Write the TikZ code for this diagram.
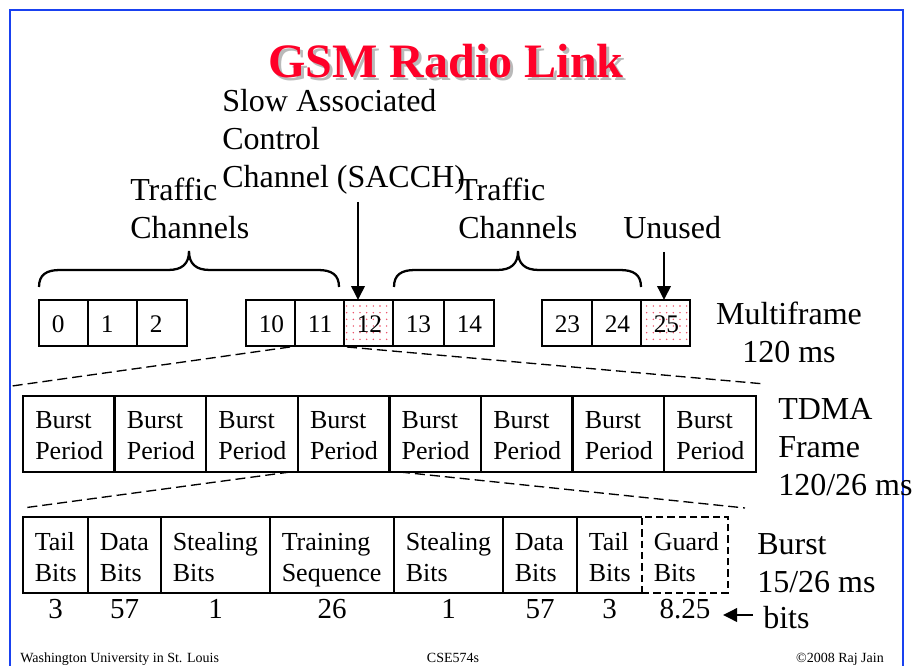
\documentclass[tikz,border=0pt]{standalone}
\usepackage{fontspec}
\setmainfont{Liberation Serif}
\usetikzlibrary{arrows.meta,patterns.meta,calc}
\definecolor{frameblue}{RGB}{25,65,240}
\definecolor{titlered}{RGB}{255,0,40}
\definecolor{shadowgray}{RGB}{185,185,185}
\definecolor{dotpink}{RGB}{235,70,95}
\begin{document}
\begin{tikzpicture}[x=0.75pt,y=-0.75pt,
  cellbox/.style={draw, line width=1.7pt, inner sep=0pt, outer sep=0pt, anchor=north west},
  mfcell/.style={cellbox, minimum width=#1*0.75pt, minimum height=34.5pt},
  tdcell/.style={cellbox, minimum width=68.7pt, minimum height=57pt},
  bcell/.style={cellbox, minimum width=#1*0.75pt, minimum height=57pt},
  dotted cell/.style={pattern={Dots[distance=5pt,radius=0.6pt]}, pattern color=dotpink},
  numtxt/.style={font=\fontsize{19}{23}\selectfont, inner sep=0pt, anchor=base west},
  celltxt/.style={font=\fontsize{19.5}{23.25}\selectfont, inner sep=0pt, anchor=base west, align=left},
  lbl/.style={font=\fontsize{24}{28.5}\selectfont, inner sep=0pt},
  bitnum/.style={font=\fontsize{21.75}{26}\selectfont, inner sep=0pt, anchor=base},
  foot/.style={font=\fontsize{10.5}{12}\selectfont, inner sep=0pt},
  zoomline/.style={line width=1pt, dash pattern=on 7.5pt off 3.75pt},
  bigarrow/.style={line width=1.9pt, -{Triangle[length=10.5pt,width=10pt]}},
  bracepath/.style={line width=1.7pt}
]
\useasboundingbox (0,0) rectangle (912,666);
% frame
\draw[frameblue, line width=2.2pt] (10,668) -- (10,10) -- (903,10) -- (903,668);
% title
\node[font=\fontsize{36}{40}\selectfont\bfseries, text=shadowgray, inner sep=0pt, anchor=base] (titleshadow) at (449,80.7) {GSM Radio Link};
\node[font=\fontsize{36}{40}\selectfont\bfseries, text=titlered, inner sep=0pt, anchor=base] (title) at (446,77.7) {GSM Radio Link};

% labels (base = baseline of last line)
\node[lbl, anchor=base west, align=left] (sacch) at (222,188) {Slow Associated\\Control\\Channel (SACCH)};
\node[lbl, anchor=base west, align=left] (traffic1) at (130,239) {Traffic\\Channels};
\node[lbl, anchor=base west, align=left] (traffic2) at (458,239) {Traffic\\Channels};
\node[lbl, anchor=base west] (unused) at (623,239) {Unused};
\node[lbl, anchor=base, align=center] (mflabel) at (789,362) {Multiframe\\120 ms};
\node[lbl, anchor=base west, align=left] (tdlabel) at (778,495) {TDMA\\Frame\\120/26 ms};
\node[lbl, anchor=base west, align=left] (blabel) at (757,592) {Burst\\15/26 ms};
\node[lbl, anchor=base west] (bitslabel) at (763,628) {bits};

% multiframe cells
\node[mfcell=49] (m0) at (39,300) {};
\node[mfcell=49] (m1) at (88,300) {};
\node[mfcell=50] (m2) at (137,300) {};
\node[mfcell=49] (m10) at (246,300) {};
\node[mfcell=49] (m11) at (295,300) {};
\node[mfcell=49, dotted cell] (m12) at (344,300) {};
\node[mfcell=51] (m13) at (393,300) {};
\node[mfcell=50] (m14) at (444,300) {};
\node[mfcell=50] (m23) at (542,300) {};
\node[mfcell=49] (m24) at (592,300) {};
\node[mfcell=49, dotted cell] (m25) at (641,300) {};
\foreach \c/\t in {m0/0,m1/1,m2/2,m10/10,m11/11,m12/12,m13/13,m14/14,m23/23,m24/24,m25/25}
  \node[numtxt] (\c-t) at ($(\c.north west)+(12.5,32.7)$) {\t};

% braces
\draw[bracepath] (39,287) .. controls (39,275) and (46,270) .. (60,270) -- (168,270)
  .. controls (182,270) and (189,264) .. (189,251)
  .. controls (189,264) and (196,270) .. (210,270) -- (318,270)
  .. controls (332,270) and (339,275) .. (339,287);
\draw[bracepath] (394,287) .. controls (394,275) and (401,270) .. (415,270) -- (497,270)
  .. controls (511,270) and (518,264) .. (518,251)
  .. controls (518,264) and (525,270) .. (539,270) -- (620,270)
  .. controls (634,270) and (641,275) .. (641,287);

% arrows
\coordinate (sacchstart) at (358,202);
\coordinate (unusedstart) at (664,252);
\draw[bigarrow] (sacchstart) -- (sacchstart |- m12.north);
\draw[bigarrow] (unusedstart) -- (unusedstart |- m25.north);

% zoom lines multiframe -> TDMA
\coordinate (z1a) at (290,347);
\coordinate (z1b) at (12,386);
\coordinate (z1c) at (347,347);
\coordinate (z1d) at (765,384);
\draw[zoomline] (z1a) -- (z1b);
\draw[zoomline] (z1c) -- (z1d);

% TDMA frame
\foreach \i in {0,...,7} {
  \node[tdcell] (t\i) at ({23+\i*91.6},395.7) {};
  \node[celltxt] (t\i-t) at ($(t\i.north west)+(12,63.3)$) {Burst\\Period};
}

% zoom lines TDMA -> burst
\coordinate (z2a) at (290,472);
\coordinate (z2b) at (23,508);
\coordinate (z2c) at (400,472);
\coordinate (z2d) at (745,508);
\draw[zoomline] (z2a) -- (z2b);
\draw[zoomline] (z2c) -- (z2d);

% burst cells
\node[bcell=65] (b0) at (23,516.7) {};
\node[bcell=73] (b1) at (88,516.7) {};
\node[bcell=109] (b2) at (161,516.7) {};
\node[bcell=124] (b3) at (270,516.7) {};
\node[bcell=109] (b4) at (394,516.7) {};
\node[bcell=74] (b5) at (503,516.7) {};
\node[cellbox, draw=none, minimum width=48.75pt, minimum height=57pt] (b6) at (577,516.7) {};
\draw[line width=1.7pt] (b6.north east) -- (b6.north west) -- (b6.south west) -- (b6.south east);
\node[cellbox, line width=1.7pt, dash pattern=on 5.5pt off 3pt, minimum width=64.5pt, minimum height=57pt] (b7) at (642,516.7) {};
\foreach \c/\t in {b0/{Tail\\Bits},b1/{Data\\Bits},b2/{Stealing\\Bits},b3/{Training\\Sequence},b4/{Stealing\\Bits},b5/{Data\\Bits},b6/{Tail\\Bits},b7/{Guard\\Bits}}
  \node[celltxt] (\c-t) at ($(\c.north west)+(11.5,64.3)$) {\t};
\foreach \c/\t in {b0/3,b1/57,b2/1,b3/26,b4/1,b5/57,b6/3,b7/8.25}
  \node[bitnum] (\c-n) at ($(\c.south)+(0,25.3)$) {\t};

% bits arrow
\coordinate (bitsarrow) at (753,615);
\draw[bigarrow] (bitsarrow) -- ++(-30,0) coordinate (bitsarrowend);

% footer
\node[foot, anchor=base west] (f1) at (20,662) {Washington University in St. Louis};
\node[foot, anchor=base] (f2) at (453,662) {CSE574s};
\node[foot, anchor=base east] (f3) at (884,662) {©2008 Raj Jain};
\end{tikzpicture}
\end{document}
